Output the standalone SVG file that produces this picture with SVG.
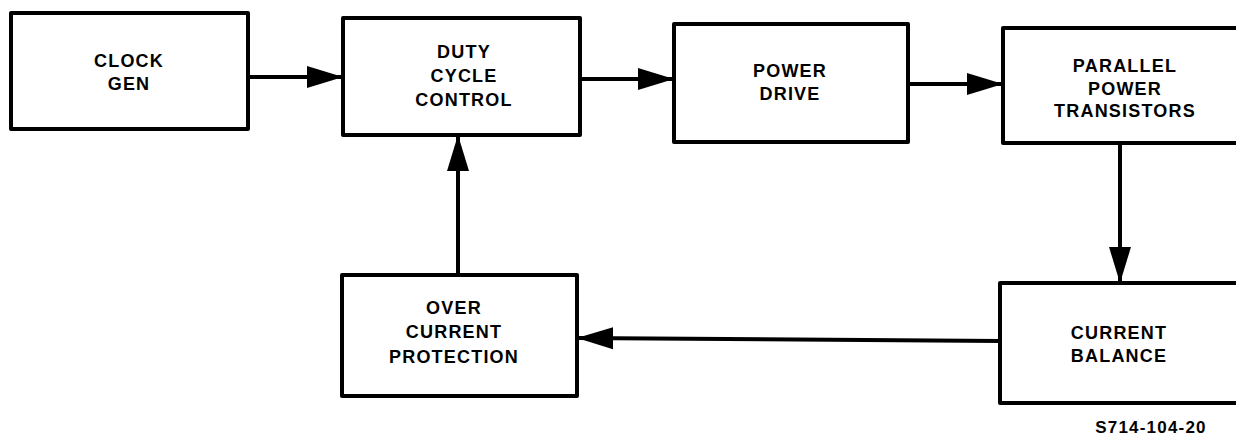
<svg xmlns="http://www.w3.org/2000/svg" width="1236" height="435" viewBox="0 0 1236 435">
<style>
.box{fill:#fff;stroke:#000;stroke-width:4;stroke-linejoin:round}
.lbl{font-family:"Liberation Sans",Arial,sans-serif;font-weight:bold;font-size:18px;letter-spacing:1.2px;text-anchor:middle;fill:#000}
.wire{fill:none;stroke:#000;stroke-width:4}
</style>
<defs>
<marker id="ah" markerUnits="userSpaceOnUse" markerWidth="38" markerHeight="26" refX="36" refY="13" orient="auto">
<path d="M0,2 L36,13 L0,24 Q-2,13 0,2 Z" fill="#000"/>
</marker>
</defs>
<rect width="1236" height="435" fill="#fff"/>
<g id="connectors">
<line class="wire" x1="248" y1="77" x2="343" y2="77" marker-end="url(#ah)"/>
<line class="wire" x1="580" y1="79" x2="674" y2="79" marker-end="url(#ah)"/>
<line class="wire" x1="908" y1="84" x2="1003" y2="84" marker-end="url(#ah)"/>
<line class="wire" x1="1120" y1="143" x2="1120" y2="283" marker-end="url(#ah)"/>
<line class="wire" x1="1000" y1="341" x2="577" y2="338" marker-end="url(#ah)"/>
<line class="wire" x1="458" y1="275" x2="458" y2="135" marker-end="url(#ah)"/>
</g>
<g id="clock-gen">
<rect class="box" x="11" y="13" width="237" height="116"/>
<text class="lbl" x="129" y="67">CLOCK</text>
<text class="lbl" x="129" y="90">GEN</text>
</g>
<g id="duty-cycle-control">
<rect class="box" x="343" y="18" width="237" height="117"/>
<text class="lbl" x="464" y="58">DUTY</text>
<text class="lbl" x="464" y="82">CYCLE</text>
<text class="lbl" x="464" y="106">CONTROL</text>
</g>
<g id="power-drive">
<rect class="box" x="674" y="24" width="234" height="118"/>
<text class="lbl" x="790" y="77">POWER</text>
<text class="lbl" x="790" y="100">DRIVE</text>
</g>
<g id="parallel-power-transistors">
<rect class="box" x="1003" y="28" width="240" height="115"/>
<text class="lbl" x="1125" y="72">PARALLEL</text>
<text class="lbl" x="1125" y="95">POWER</text>
<text class="lbl" x="1125" y="117">TRANSISTORS</text>
</g>
<g id="over-current-protection">
<rect class="box" x="342" y="275" width="235" height="121"/>
<text class="lbl" x="454" y="314">OVER</text>
<text class="lbl" x="454" y="338">CURRENT</text>
<text class="lbl" x="454" y="363">PROTECTION</text>
</g>
<g id="current-balance">
<rect class="box" x="1000" y="283" width="243" height="120"/>
<text class="lbl" x="1119" y="339">CURRENT</text>
<text class="lbl" x="1119" y="362">BALANCE</text>
</g>
<text class="lbl" x="1151" y="433" style="font-size:17px">S714-104-20</text>
</svg>
